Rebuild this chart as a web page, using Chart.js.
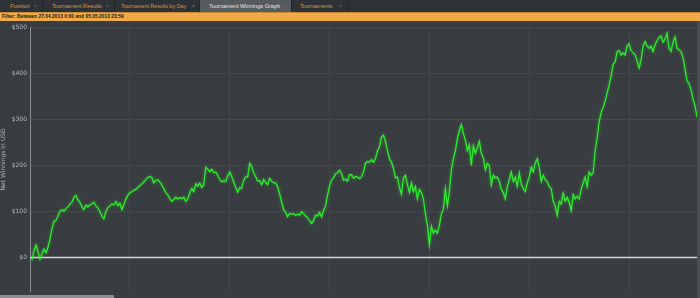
<!DOCTYPE html>
<html>
<head>
<meta charset="utf-8">
<script src="https://cdn.jsdelivr.net/npm/chart.js@4.4.1/dist/chart.umd.min.js"></script>
<style>
    html, body { margin: 0; padding: 0; background: #2f3337; overflow: hidden; }
    body { width: 700px; height: 298px; position: relative; font-family: "Liberation Sans", sans-serif; }
    #tabs { position: absolute; left: 0; top: 0; width: 700px; height: 12px; background: #2e3236; }
    .tab { position: absolute; top: 0; height: 12px; line-height: 12px; font-size: 5.6px; color: #d49a4c; border-right: 1px solid #24272a; box-sizing: border-box; white-space: nowrap; }
    .tab span { position: absolute; right: 5px; color: #6d7276; font-size: 5px; }
    .tab.active { background: #565b60; color: #e6e6e6; }
    #filter { position: absolute; left: 0; top: 12px; width: 700px; height: 9px; background: #f0aa48; border-top: 1px solid #c98a36; box-sizing: border-box; font-size: 4.9px; line-height: 8px; color: #1a1a1a; font-weight: bold; padding-left: 2px; white-space: nowrap; }
    #wrap { position: absolute; left: 0; top: 21px; width: 700px; height: 277px; background: #393d41; }
    #scroll { position: absolute; left: 0; top: 295px; width: 114px; height: 3px; background: #8c9094; }
    #rside { position: absolute; left: 697px; top: 21px; width: 3px; height: 277px; background: #4a4e52; }
</style>
</head>
<body>
<div id="tabs">
    <div class="tab" style="left:0;width:43px;padding-left:10px;">Position<span>×</span></div>
    <div class="tab" style="left:43px;width:72px;padding-left:9px;">Tournament Results<span>×</span></div>
    <div class="tab" style="left:115px;width:85px;padding-left:6px;font-size:5.3px;">Tournament Results by Day<span style="right:4px;">×</span></div>
    <div class="tab active" style="left:200px;width:92px;padding-left:9px;">Tournament Winnings Graph<span>×</span></div>
    <div class="tab" style="left:292px;width:56px;padding-left:8px;">Tournaments<span>×</span></div>
</div>
<div id="filter">Filter: Between 27.04.2013 0:00 and 05.05.2013 23:59</div>
<div id="wrap"><canvas id="winningsChart" width="700" height="277"></canvas></div>
<div id="rside"></div>
<div id="scroll"></div>
<script>
// net winnings (USD) after each tournament
const winningsPart1 = [
    -6, 15, 27, 12, -4, 8, 18, 10, 22, 40, 62, 78, 80, 90, 100, 104, 100, 106, 110, 116,
    120, 130, 135, 125, 120, 110, 104, 114, 110, 114, 116, 120, 112, 108, 100, 90, 84, 100, 108, 112,
    116, 114, 122, 112, 118, 104, 115, 127, 135, 141, 143, 146, 148, 152, 156, 160, 164, 169, 174, 176,
    174, 162, 168, 169, 164, 158, 150, 141, 136, 128, 122, 126, 131, 127, 130, 128, 131, 122, 127, 140
];
const winningsPart2 = [
    150, 143, 160, 155, 162, 152, 158, 196, 192, 186, 192, 184, 186, 178, 170, 164, 167, 165, 177, 186,
    176, 164, 152, 142, 152, 150, 168, 175, 175, 205, 198, 184, 176, 166, 167, 158, 170, 163, 158, 172,
    166, 162, 162, 154, 138, 120, 104, 98, 88, 96, 94, 95, 91, 94, 92, 100, 95, 90, 86, 80,
    74, 80, 92, 90, 98, 88, 102, 112, 135, 155, 168, 173, 182, 184, 190, 182, 168, 170, 166, 180,
    180, 172, 176
];
const winningsPart3 = [
    175, 171, 175, 186, 205, 209, 207, 213, 207, 215, 232, 240, 262, 266, 253, 232, 215, 207, 194, 173,
    175, 152, 137, 173, 179, 158, 141, 162, 143, 154, 127, 148, 141, 127, 95, 70, 27, 68, 53, 59,
    53, 70, 95, 105, 150, 112, 143, 190, 215, 232, 258, 275, 289, 270, 255, 232, 245, 200, 243, 226,
    238, 253, 226, 217, 190, 205, 200, 158, 179, 173, 175, 165, 148, 141, 127, 154, 169, 186, 165, 175,
    154, 184
];
const winningsPart4 = [
    160, 150, 143, 162, 175, 196, 186, 205, 215, 196, 165, 179, 169, 165, 154, 150, 122, 112, 91, 122,
    116, 140, 122, 131, 120, 101, 137, 127, 133, 127, 148, 162, 175, 154, 186, 179, 184, 232, 260, 295,
    315, 326, 340, 358, 375, 395, 420, 425, 448, 450, 440, 445, 440, 460, 465, 450, 445, 442, 428, 412,
    430, 460, 470, 460, 455, 460, 448, 462, 472, 478, 482, 468, 475, 488, 455, 448, 468, 480, 455, 452,
    448, 435, 410, 385, 378, 365, 345, 330, 305
];
const winnings = [...winningsPart1, ...winningsPart2, ...winningsPart3, ...winningsPart4];
const tournamentNo = winnings.map((v, i) => i + 1);
const yTicks = [0, 100, 200, 300, 400, 500];

const glow = {
    id: 'glow',
    beforeDatasetDraw(chart) {
        chart.ctx.save();
        chart.ctx.shadowColor = 'rgba(40, 255, 40, 0.6)';
        chart.ctx.shadowBlur = 3;
    },
    afterDatasetDraw(chart) {
        chart.ctx.restore();
    }
};

// zero line over the grid
const zeroLine = {
    id: 'zeroLine',
    beforeDatasetsDraw(chart) {
        const { ctx, chartArea, scales } = chart;
        const y = scales.y.getPixelForValue(0);
        ctx.save();
        ctx.strokeStyle = '#d6d6d6';
        ctx.lineWidth = 1.5;
        ctx.beginPath();
        ctx.moveTo(chartArea.left, y);
        ctx.lineTo(chartArea.right, y);
        ctx.stroke();
        ctx.restore();
    }
};

const ctx = document.getElementById('winningsChart').getContext('2d');
new Chart(ctx, {
    type: 'line',
    data: {
        datasets: [{
            label: 'Net Winnings',
            data: winnings.map((v, i) => ({ x: tournamentNo[i], y: v })),
            borderColor: '#2ef02e',
            borderWidth: 1.2,
            pointRadius: 0,
            tension: 0,
            fill: false
        }]
    },
    options: {
        responsive: false,
        animation: false,
        events: [],
        layout: { padding: { top: 1, right: 3, bottom: 2, left: 0 } },
        plugins: { legend: { display: false }, tooltip: { enabled: false } },
        scales: {
            x: {
                type: 'linear',
                min: 0,
                max: 334,
                ticks: { display: false, stepSize: 50 },
                grid: { color: '#44484c', lineWidth: 1, drawTicks: false },
                border: { display: false },
                afterFit: (scale) => { scale.height = 0; }
            },
            y: {
                min: -74,
                max: 500,
                afterBuildTicks: (scale) => { scale.ticks = yTicks.map(v => ({ value: v })); },
                ticks: {
                    color: '#b4b8bc',
                    font: { size: 6, family: 'DejaVu Sans' },
                    padding: 3,
                    callback: (v) => '$' + v
                },
                grid: { color: '#44484c', lineWidth: 1, drawTicks: false },
                border: { color: '#8a8e92', width: 1 },
                title: {
                    display: true,
                    text: 'Net Winnings in USD',
                    color: '#b4b8bc',
                    font: { size: 6, family: 'DejaVu Sans' },
                    padding: { top: 0, bottom: 0 }
                },
                afterFit: (scale) => { scale.width = 30; }
            }
        }
    },
    plugins: [zeroLine, glow]
});
</script>
</body>
</html>
